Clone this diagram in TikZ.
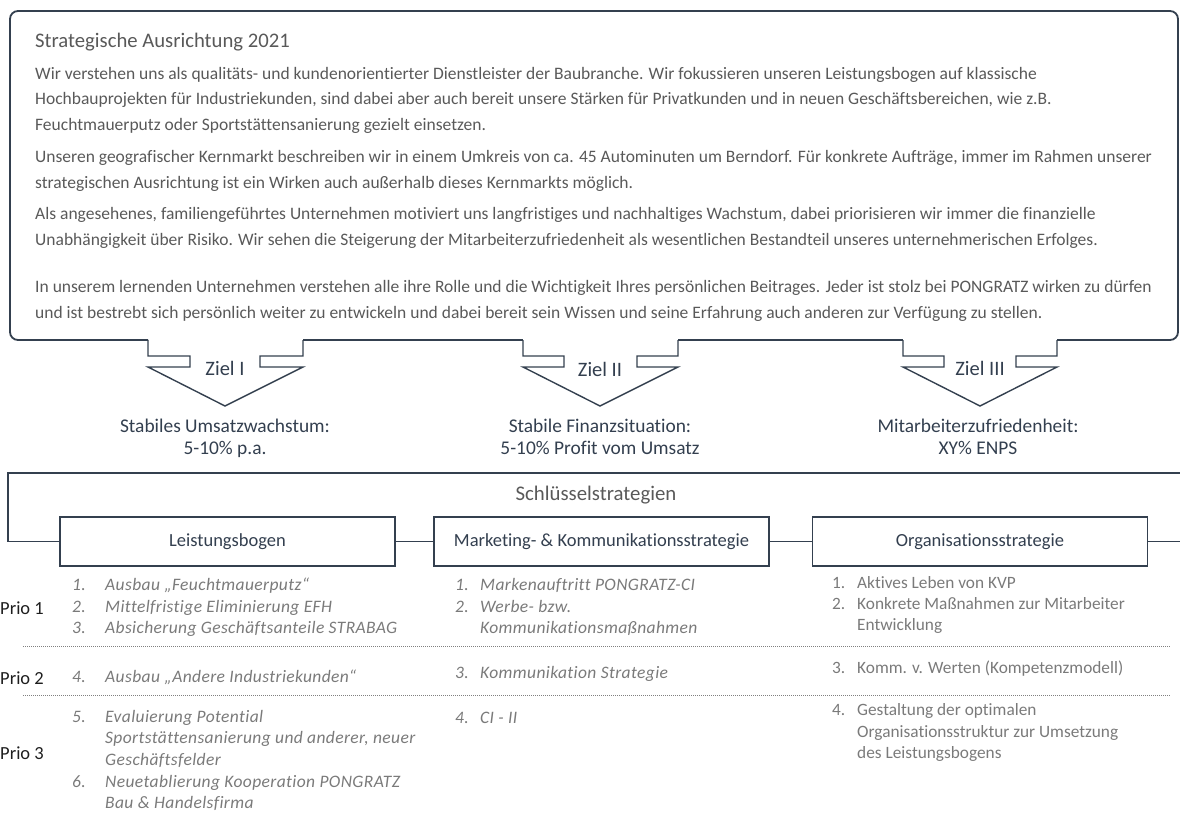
\documentclass[tikz,border=0pt]{standalone}
\usepackage{fontspec}
\setmainfont{Carlito}[Ligatures=NoCommon]
\definecolor{linec}{HTML}{34404F}
\definecolor{bodyc}{HTML}{595959}
\definecolor{darkc}{HTML}{333F4F}
\definecolor{listc}{HTML}{7A7A7A}
\definecolor{prioc}{HTML}{1E1E1E}
\begin{document}
\begin{tikzpicture}[x=1pt,y=-1pt,
  boxline/.style={draw=linec, line width=1.8pt},
  arrowline/.style={draw=linec, line width=1.4pt, line join=miter},
  title/.style={anchor=base west, inner sep=0, text=bodyc, font=\fontsize{20.7}{24}\selectfont},
  body/.style={anchor=base west, inner sep=0, text=bodyc, font=\fontsize{17.5}{20}\selectfont},
  goal/.style={anchor=base, inner sep=0, text=darkc, font=\fontsize{19.4}{22}\selectfont},
  ziel/.style={anchor=base, inner sep=0, text=darkc, font=\fontsize{20.5}{24}\selectfont},
  stratbox/.style={draw=linec, line width=1.6pt, fill=white, minimum width=335pt, minimum height=49pt, inner sep=0, text=darkc, font=\fontsize{18.5}{22}\selectfont},
  head/.style={anchor=base, inner sep=0, text=bodyc, font=\fontsize{20.8}{24}\selectfont},
  prio/.style={anchor=base east, inner sep=0, text=prioc, font=\fontsize{18.5}{22}\selectfont},
  itnum/.style={anchor=base west, inner sep=0, text=listc, font=\fontsize{17.5}{20}\selectfont\itshape\addfontfeature{LetterSpace=2.2}},
  upnum/.style={anchor=base west, inner sep=0, text=listc, font=\fontsize{17.3}{20}\selectfont},
  sep/.style={draw=gray, line width=0.6pt, dash pattern=on 1pt off 1pt}
]
\useasboundingbox (0,0) rectangle (1180,814);

% top box
\draw[boxline, rounded corners=8pt] (148,340) -- (10,340) -- (10,11) -- (1178,11) -- (1178,340) -- (1057,340);
\draw[boxline] (303,340) -- (523,340);
\draw[boxline] (678,340) -- (903,340);

% arrows
\draw[arrowline] (148,340) -- (148,356) -- (190,356) -- (190,367) -- (148,367) -- (225,406) -- (303,367) -- (260,367) -- (260,356) -- (303,356) -- (303,340);
\draw[arrowline] (523,340) -- (523,356) -- (564,356) -- (564,367) -- (523,367) -- (600,406) -- (678,367) -- (637,367) -- (637,356) -- (678,356) -- (678,340);
\draw[arrowline] (903,340) -- (903,356) -- (944,356) -- (944,367) -- (903,367) -- (980,406) -- (1057,367) -- (1016,367) -- (1016,356) -- (1057,356) -- (1057,340);

% top texts
\node[title] (ttl) at (35,47) {Strategische Ausrichtung 2021};
\node[body] (p11) at (35,79) {Wir verstehen uns als qualitäts- und kundenorientierter Dienstleister der Baubranche. Wir fokussieren unseren Leistungsbogen auf klassische};
\node[body] (p12) at (35,104.5) {Hochbauprojekten für Industriekunden, sind dabei aber auch bereit unsere Stärken für Privatkunden und in neuen Geschäftsbereichen, wie z.B.};
\node[body] (p13) at (35,130) {Feuchtmauerputz oder Sportstättensanierung gezielt einsetzen.};
\node[body] (p21) at (35,162) {Unseren geografischer Kernmarkt beschreiben wir in einem Umkreis von ca. 45 Autominuten um Berndorf. Für konkrete Aufträge, immer im Rahmen unserer};
\node[body] (p22) at (35,188) {strategischen Ausrichtung ist ein Wirken auch außerhalb dieses Kernmarkts möglich.};
\node[body] (p31) at (35,219) {Als angesehenes, familiengeführtes Unternehmen motiviert uns langfristiges und nachhaltiges Wachstum, dabei priorisieren wir immer die finanzielle};
\node[body] (p32) at (35,245) {Unabhängigkeit über Risiko. Wir sehen die Steigerung der Mitarbeiterzufriedenheit als wesentlichen Bestandteil unseres unternehmerischen Erfolges.};
\node[body] (p41) at (35,292) {In unserem lernenden Unternehmen verstehen alle ihre Rolle und die Wichtigkeit Ihres persönlichen Beitrages. Jeder ist stolz bei PONGRATZ wirken zu dürfen};
\node[body] (p42) at (35,318) {und ist bestrebt sich persönlich weiter zu entwickeln und dabei bereit sein Wissen und seine Erfahrung auch anderen zur Verfügung zu stellen.};

% Ziel labels
\node[ziel] (z1) at (225,375) {Ziel I};
\node[ziel] (z2) at (600,376) {Ziel II};
\node[ziel] (z3) at (980,375) {Ziel III};

% goals
\node[goal] (g1a) at (225,432) {Stabiles Umsatzwachstum:};
\node[goal] (g1b) at (225,454) {5-10\% p.a.};
\node[goal] (g2a) at (600,432) {Stabile Finanzsituation:};
\node[goal] (g2b) at (600,454) {5-10\% Profit vom Umsatz};
\node[goal] (g3a) at (978,432) {Mitarbeiterzufriedenheit:};
\node[goal] (g3b) at (978,454) {XY\% ENPS};

% key strategies
\node[head] (ks) at (596,500) {Schlüsselstrategien};
\node[stratbox] (lb) at (227.5,541.5) {Leistungsbogen};
\node[stratbox] (mk) at (601.5,541.5) {Marketing- \& Kommunikationsstrategie};
\node[stratbox] (org) at (980,541.5) {Organisationsstrategie};
\coordinate (tr) at (1180,473);
\coordinate (tl) at (8,473);
\coordinate (re) at (1180,541.5);
\draw[boxline] (tr) -- (tl) |- (lb.west);
\draw[boxline] (lb.east) -- (mk.west);
\draw[boxline] (mk.east) -- (org.west);
\draw[boxline] (org.east) -- (re);

% separators
\coordinate (s1a) at (23,646); \coordinate (s1b) at (1170,646);
\coordinate (s2a) at (23,695); \coordinate (s2b) at (1170,695);
\draw[sep] (s1a) -- (s1b);
\draw[sep] (s2a) -- (s2b);

% prio labels
\node[prio] (pr1) at (44,614) {Prio 1};
\node[prio] (pr2) at (44,684) {Prio 2};
\node[prio] (pr3) at (44,759) {Prio 3};

% left list
\node[itnum] (l1n) at (72,590) {1.};  \node[itnum] (l1) at (105,590) {Ausbau „Feuchtmauerputz“};
\node[itnum] (l2n) at (72,612) {2.};  \node[itnum] (l2) at (105,612) {Mittelfristige Eliminierung EFH};
\node[itnum] (l3n) at (72,633) {3.};  \node[itnum] (l3) at (105,633) {Absicherung Geschäftsanteile STRABAG};
\node[itnum] (l4n) at (72,682) {4.};  \node[itnum] (l4) at (105,682) {Ausbau „Andere Industriekunden“};
\node[itnum] (l5n) at (72,722) {5.};  \node[itnum] (l5) at (105,722) {Evaluierung Potential};
\node[itnum] (l5b) at (105,743) {Sportstättensanierung und anderer, neuer};
\node[itnum] (l5c) at (105,765) {Geschäftsfelder};
\node[itnum] (l6n) at (72,787) {6.};  \node[itnum] (l6) at (105,787) {Neuetablierung Kooperation PONGRATZ};
\node[itnum] (l6b) at (105,808) {Bau \& Handelsfirma};

% middle list
\node[itnum] (m1n) at (455,590) {1.};  \node[itnum] (m1) at (480,590) {Markenauftritt PONGRATZ-CI};
\node[itnum] (m2n) at (455,612) {2.};  \node[itnum] (m2) at (480,612) {Werbe- bzw.};
\node[itnum] (m2b) at (480,633) {Kommunikationsmaßnahmen};
\node[itnum] (m3n) at (455,678) {3.};  \node[itnum] (m3) at (480,678) {Kommunikation Strategie};
\node[itnum] (m4n) at (455,723) {4.};  \node[itnum] (m4) at (480,723) {CI - II};

% right list
\node[upnum] (r1n) at (832,588) {1.};  \node[upnum] (r1) at (857,588) {Aktives Leben von KVP};
\node[upnum] (r2n) at (832,609) {2.};  \node[upnum] (r2) at (857,609) {Konkrete Maßnahmen zur Mitarbeiter};
\node[upnum] (r2b) at (857,630) {Entwicklung};
\node[upnum] (r3n) at (832,673) {3.};  \node[upnum] (r3) at (857,673) {Komm. v. Werten (Kompetenzmodell)};
\node[upnum] (r4n) at (832,715) {4.};  \node[upnum] (r4) at (857,715) {Gestaltung der optimalen};
\node[upnum] (r4b) at (857,737) {Organisationsstruktur zur Umsetzung};
\node[upnum] (r4c) at (857,758) {des Leistungsbogens};
\end{tikzpicture}
\end{document}
